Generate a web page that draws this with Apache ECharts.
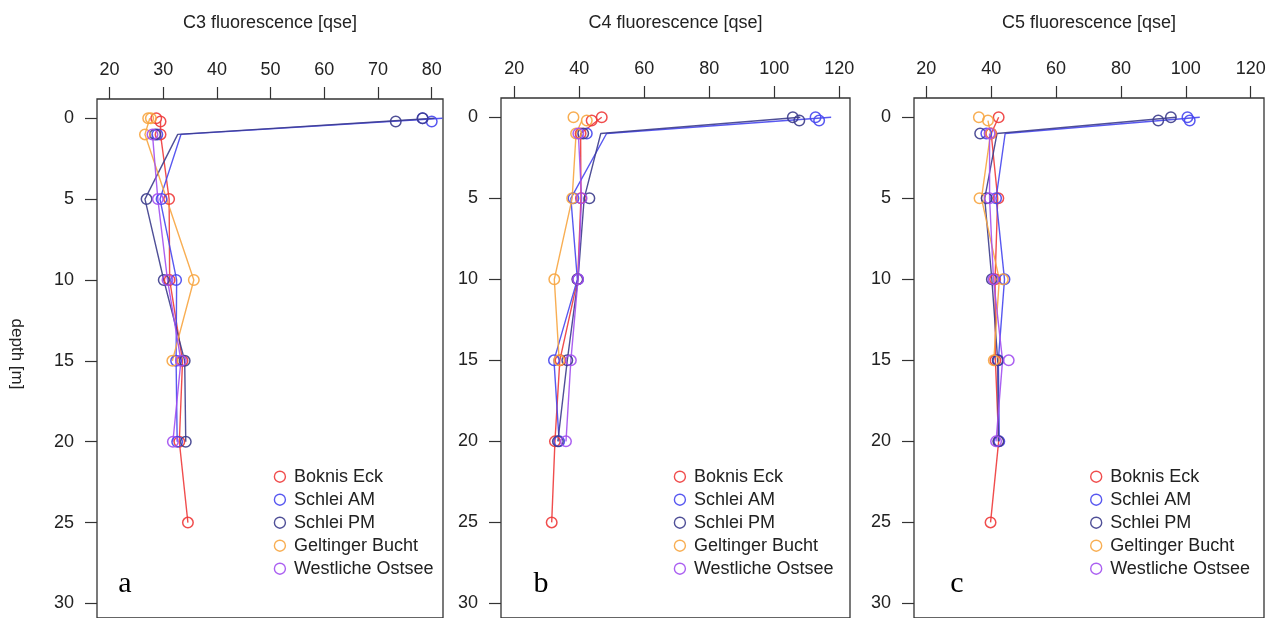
<!DOCTYPE html>
<html>
<head>
<meta charset="utf-8">
<script src="https://cdn.jsdelivr.net/npm/echarts@6/dist/echarts.min.js"></script>
<style>html,body{margin:0;padding:0;background:#fff}#c{width:1275px;height:618px}</style>
</head>
<body>
<div id="c"></div>
<script>
// ---------- data ----------
const stations = ['Boknis Eck', 'Schlei AM', 'Schlei PM', 'Geltinger Bucht', 'Westliche Ostsee'];
const panelTitles = ['C3 fluorescence [qse]', 'C4 fluorescence [qse]', 'C5 fluorescence [qse]'];
const panelLetters = ['a', 'b', 'c'];
const depthTicks = [0, 5, 10, 15, 20, 25, 30];
const c3Ticks = [20, 30, 40, 50, 60, 70, 80];
const c4Ticks = [20, 40, 60, 80, 100, 120];
const c5Ticks = [20, 40, 60, 80, 100, 120];

// C3 points [value, depth]
const c3BoknisPts = [[28.7,0],[29.5,0.2],[29.5,1],[31.1,5],[31.2,10],[33.6,15],[33.0,20],[34.6,25]];
const c3SchleiAMPts = [[78.3,0],[80.0,0.2],[28.9,1],[29.7,5],[32.4,10],[32.4,15],[32.6,20]];
const c3SchleiPMPts = [[73.3,0.2],[78.3,0],[28.5,1],[26.9,5],[30.1,10],[34.0,15],[34.2,20]];
const c3GeltingerPts = [[27.2,0],[27.7,0],[26.6,1],[35.7,10],[31.7,15]];
const c3WestlichePts = [[28.0,1],[29.0,5],[30.8,10],[33.3,15],[31.8,20]];
// C3 profile lines
const c3BoknisLine = [[29.5,0.2],[29.5,1],[31.1,5],[31.2,10],[33.6,15],[33.0,20],[34.6,25]];
const c3SchleiAMLine = [[82.0,0],[33.3,1],[29.4,5],[32.5,10],[32.4,15],[32.6,20]];
const c3SchleiPMLine = [[80.5,0],[32.7,1],[26.6,5],[30.1,10],[34.0,15],[34.2,20]];
const c3GeltingerLine = [[27.5,0],[26.6,1],[35.7,10],[31.7,15]];
const c3WestlicheLine = [[28.0,1],[29.0,5],[30.8,10],[33.3,15],[31.8,20]];

// C4 points
const c4BoknisPts = [[43.8,0.2],[46.9,0],[40.4,1],[40.5,5],[39.5,10],[34.2,15],[32.5,20],[31.5,25]];
const c4SchleiAMPts = [[112.7,0],[113.8,0.2],[42.3,1],[38.2,5],[39.6,10],[32.2,15],[33.8,20]];
const c4SchleiPMPts = [[105.7,0],[107.7,0.2],[41.2,1],[43.1,5],[39.4,10],[36.3,15],[33.4,20]];
const c4GeltingerPts = [[38.2,0],[42.3,0.2],[39.0,1],[37.8,5],[32.3,10],[33.8,15]];
const c4WestlichePts = [[39.7,1],[40.7,5],[39.6,10],[37.4,15],[35.9,20]];
// C4 lines
const c4BoknisLine = [[46.9,0],[40.4,1],[40.5,5],[39.5,10],[34.0,15],[32.5,20],[31.5,25]];
const c4SchleiAMLine = [[117.5,0],[48.4,1],[37.4,5],[39.4,10],[32.2,15],[33.8,20]];
const c4SchleiPMLine = [[108.0,0],[46.6,1],[41.5,5],[39.6,10],[36.3,15],[33.4,20]];
const c4GeltingerLine = [[40.8,0.2],[39.0,1],[37.8,5],[32.3,10],[33.8,15]];
const c4WestlicheLine = [[39.7,1],[40.7,5],[39.6,10],[37.4,15],[35.9,20]];

// C5 points
const c5BoknisPts = [[42.3,0],[40.0,1],[42.2,5],[41.2,10],[41.3,15],[42.3,20],[39.8,25]];
const c5SchleiAMPts = [[100.5,0],[101.2,0.2],[38.5,1],[41.5,5],[44.1,10],[42.2,15],[42.5,20]];
const c5SchleiPMPts = [[91.5,0.2],[95.4,0],[36.6,1],[38.6,5],[40.2,10],[42.0,15],[42.2,20]];
const c5GeltingerPts = [[36.2,0],[39.0,0.2],[39.8,1],[36.4,5],[43.6,10],[40.8,15]];
const c5WestlichePts = [[39.5,1],[39.5,5],[40.7,10],[45.4,15],[41.5,20]];
// C5 lines
const c5BoknisLine = [[42.3,0],[40.0,1],[42.0,5],[41.2,10],[41.3,15],[42.3,20],[39.8,25]];
const c5SchleiAMLine = [[104.3,0],[44.3,1],[41.5,5],[44.1,10],[42.2,15],[42.5,20]];
const c5SchleiPMLine = [[97.0,0],[41.8,1],[38.0,5],[40.2,10],[42.0,15],[42.2,20]];
const c5GeltingerLine = [[39.0,0.2],[39.8,1],[37.0,5],[42.5,10],[40.8,15]];
const c5WestlicheLine = [[39.5,1],[39.5,5],[40.7,10],[43.5,15],[41.5,20]];

// ---------- assembly ----------
const panelPts = [
  [c3BoknisPts, c3SchleiAMPts, c3SchleiPMPts, c3GeltingerPts, c3WestlichePts],
  [c4BoknisPts, c4SchleiAMPts, c4SchleiPMPts, c4GeltingerPts, c4WestlichePts],
  [c5BoknisPts, c5SchleiAMPts, c5SchleiPMPts, c5GeltingerPts, c5WestlichePts]
];
const panelLines = [
  [c3BoknisLine, c3SchleiAMLine, c3SchleiPMLine, c3GeltingerLine, c3WestlicheLine],
  [c4BoknisLine, c4SchleiAMLine, c4SchleiPMLine, c4GeltingerLine, c4WestlicheLine],
  [c5BoknisLine, c5SchleiAMLine, c5SchleiPMLine, c5GeltingerLine, c5WestlicheLine]
];
const panelXTicks = [c3Ticks, c4Ticks, c5Ticks];

const colors = ['#ee3a3a', '#4646ee', '#3c3c8c', '#f7a540', '#a24ff0'];
const FONT = '"Liberation Sans", Arial, Helvetica, sans-serif';
const TXT = '#222';

const grids = [
  {left: 97, top: 99, width: 346, height: 524},
  {left: 501, top: 98, width: 349, height: 524},
  {left: 914, top: 98, width: 350, height: 524}
];
const xRanges = [[17.67, 82.1], [15.9, 123.3], [16.2, 124.1]];
const yRange = [-1.19, 30.9];
const legendLefts = [268.7, 668.7, 1085];
const letterX = [125, 541, 957];

const option = {
  backgroundColor: '#fff',
  animation: false,
  grid: grids.map(g => Object.assign({show: true, borderColor: '#333', borderWidth: 1.3, backgroundColor: 'rgba(0,0,0,0)'}, g)),
  xAxis: grids.map((g, i) => ({
    type: 'value', gridIndex: i, position: 'top',
    min: xRanges[i][0], max: xRanges[i][1],
    axisLine: {show: false, onZero: false},
    splitLine: {show: false},
    axisTick: {show: true, length: 12, inside: false, customValues: panelXTicks[i], lineStyle: {color: '#333', width: 1.2}},
    axisLabel: {show: true, customValues: panelXTicks[i], margin: 20, fontSize: 18, color: TXT, fontFamily: FONT}
  })),
  yAxis: grids.map((g, i) => ({
    type: 'value', gridIndex: i, inverse: true,
    min: yRange[0], max: yRange[1],
    axisLine: {show: false, onZero: false},
    splitLine: {show: false},
    axisTick: {show: true, length: 12, inside: false, customValues: depthTicks, lineStyle: {color: '#333', width: 1.2}},
    axisLabel: {show: true, customValues: depthTicks, margin: 23, fontSize: 18, color: TXT, fontFamily: FONT}
  })),
  legend: grids.map((g, i) => ({
    orient: 'vertical', left: legendLefts[i], top: 462.7,
    itemWidth: 18, itemHeight: 11, itemGap: 5,
    selectedMode: false,
    textStyle: {fontSize: 18, lineHeight: 18, color: TXT, fontFamily: FONT},
    data: stations.map((s, j) => ({
      name: s, icon: 'circle',
      itemStyle: {color: 'rgba(0,0,0,0)', borderColor: colors[j], borderWidth: 1.4}
    }))
  })),
  graphic: [],
  series: []
};

for (let p = 0; p < 3; p++) {
  for (let s = 0; s < stations.length; s++) {
    option.series.push({
      type: 'scatter', name: stations[s], xAxisIndex: p, yAxisIndex: p, z: 4,
      symbol: 'circle', symbolSize: 10.5,
      itemStyle: {color: 'rgba(0,0,0,0)', borderColor: colors[s], borderWidth: 1.5, opacity: 0.9},
      data: panelPts[p][s]
    });
  }
  for (let s = 0; s < stations.length; s++) {
    option.series.push({
      type: 'line', name: stations[s], xAxisIndex: p, yAxisIndex: p, z: 3,
      symbol: 'none', showSymbol: false,
      lineStyle: {color: colors[s], width: 1.4, opacity: 0.9},
      itemStyle: {color: colors[s]},
      data: panelLines[p][s]
    });
  }
  const g = grids[p];
  option.graphic.push({
    type: 'text', x: g.left + g.width / 2, y: 23,
    style: {text: panelTitles[p], align: 'center', verticalAlign: 'middle', fontSize: 18, fontFamily: FONT, fill: TXT}
  });
  option.graphic.push({
    type: 'text', x: letterX[p], y: 584,
    style: {text: panelLetters[p], align: 'center', verticalAlign: 'middle', fontSize: 30, fontFamily: '"Liberation Serif", "Times New Roman", serif', fill: '#000'}
  });
}
option.graphic.push({
  type: 'text', x: 17, y: 354, rotation: -Math.PI / 2,
  style: {text: 'depth [m]', align: 'center', verticalAlign: 'middle', fontSize: 17, fontFamily: FONT, fill: TXT}
});

const chart = echarts.init(document.getElementById('c'), null, {renderer: 'canvas'});
chart.setOption(option);
</script>
</body>
</html>
